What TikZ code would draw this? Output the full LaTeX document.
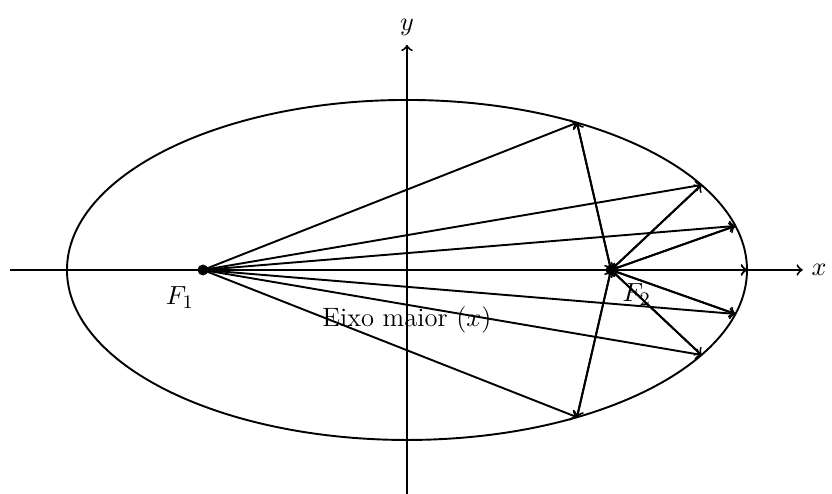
\documentclass[tikz,border=0pt]{standalone}
\begin{document}
\begin{tikzpicture}[x=1cm,y=1cm,
  ray/.style={thick,->},
  axis/.style={thick,->},
  every node/.style={font=\fontsize{11.1}{13}\selectfont}]
\useasboundingbox (-5.985,-3.28) rectangle (6.25,3.97);
% axes
\coordinate (xl) at (-5.84,0);
\coordinate (xr) at (5.82,0);
\coordinate (yb) at (0,-3.3);
\coordinate (yt) at (0,3.31);
\draw[axis] (xl) -- (xr) node[right] {$x$};
\draw[axis] (yb) -- (yt) node[above] {$y$};
% ellipse
\draw[thick] (0,0) ellipse [x radius=5, y radius=2.5];
% foci
\coordinate (F1) at (-3,0);
\coordinate (F2) at (3,0);
% rays
\foreach \t in {60,30,15,0,-15,-30,-60}{
  \coordinate (P\t) at ({5*cos(\t)},{2.5*sin(\t)});
  \draw[ray] (F1) -- (P\t);
  \draw[ray] (F2) -- (P\t);
  \draw[ray] (P\t) -- (F2);
}
\fill (F1) circle (0.08);
\fill (F2) circle (0.08);
\node at (-3.34,-0.40) {$F_1$};
\node at (3.38,-0.36) {$F_2$};
\node at (0,-0.74) {Eixo maior ($x$)};
\end{tikzpicture}
\end{document}
